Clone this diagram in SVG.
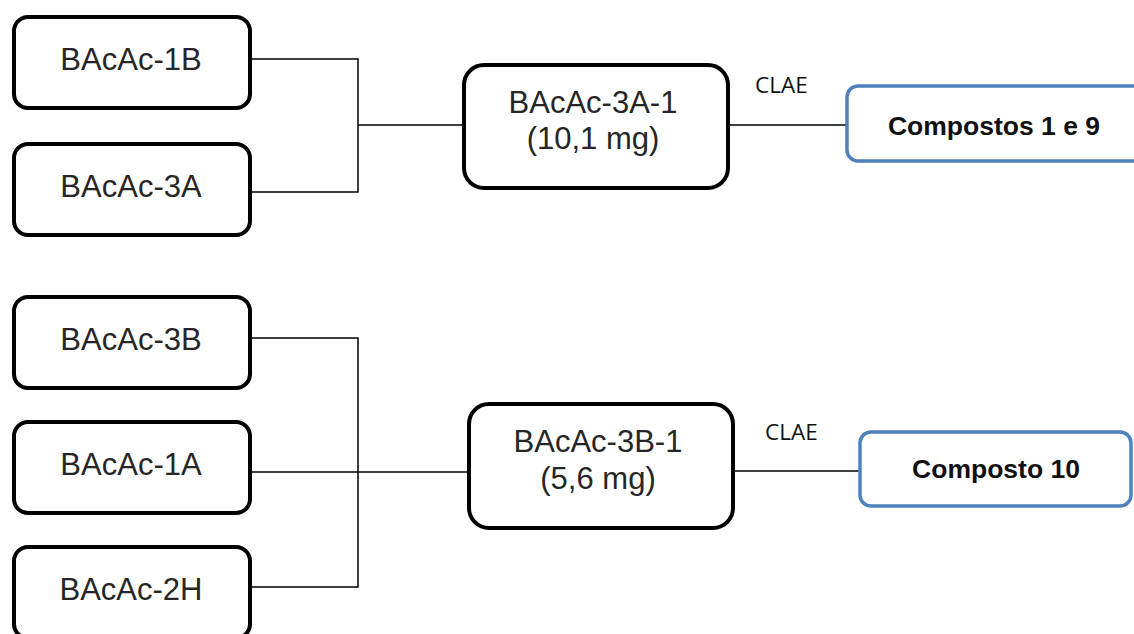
<svg xmlns="http://www.w3.org/2000/svg" width="1134" height="634" viewBox="0 0 1134 634">
  <style>
    .box { fill: #ffffff; stroke: #000000; stroke-width: 4; }
    .res { fill: #ffffff; stroke: #4f81bd; stroke-width: 3.5; }
    .lbl { font-family: "Liberation Sans", Arial, sans-serif; font-size: 31px; fill: #262626; text-anchor: middle; }
    .bold { font-family: "Liberation Sans", Arial, sans-serif; font-size: 26.5px; font-weight: bold; fill: #111111; text-anchor: middle; }
    .note { font-family: "Open Sans", "Liberation Sans", sans-serif; font-size: 22.5px; fill: #111111; }
    .wire { fill: none; stroke: #000000; stroke-width: 1.5; }
  </style>
  <rect width="1134" height="634" fill="#ffffff"/>

  <!-- connectors -->
  <g id="connectors">
    <path class="wire" d="M252,59 H358 V192 H252"/>
    <path class="wire" d="M358,125 H464"/>
    <path class="wire" d="M728,125 H847"/>
    <path class="wire" d="M252,338 H358 V587 H252"/>
    <path class="wire" d="M252,472 H469"/>
    <path class="wire" d="M733,471 H860"/>
    <text class="note" x="755" y="93">CLAE</text>
    <text class="note" x="765" y="440">CLAE</text>
  </g>

  <!-- upper branch -->
  <g id="n-bacac-1b">
    <rect class="box" x="14" y="17" width="236" height="91" rx="14"/>
    <text class="lbl" x="131" y="70">BAcAc-1B</text>
  </g>
  <g id="n-bacac-3a">
    <rect class="box" x="14" y="144" width="236" height="91" rx="14"/>
    <text class="lbl" x="131" y="197">BAcAc-3A</text>
  </g>
  <g id="n-bacac-3a-1">
    <rect class="box" x="464" y="65" width="264" height="123" rx="20"/>
    <text class="lbl" x="593" y="113">BAcAc-3A-1</text>
    <text class="lbl" x="593" y="149">(10,1 mg)</text>
  </g>
  <g id="n-compostos-1-9">
    <rect class="res" x="847" y="86" width="300" height="75" rx="11"/>
    <text class="bold" x="994" y="135">Compostos 1 e 9</text>
  </g>

  <!-- lower branch -->
  <g id="n-bacac-3b">
    <rect class="box" x="14" y="297" width="236" height="91" rx="14"/>
    <text class="lbl" x="131" y="350">BAcAc-3B</text>
  </g>
  <g id="n-bacac-1a">
    <rect class="box" x="14" y="422" width="236" height="91" rx="14"/>
    <text class="lbl" x="131" y="475">BAcAc-1A</text>
  </g>
  <g id="n-bacac-2h">
    <rect class="box" x="14" y="547" width="236" height="91" rx="14"/>
    <text class="lbl" x="131" y="600">BAcAc-2H</text>
  </g>
  <g id="n-bacac-3b-1">
    <rect class="box" x="469" y="404" width="264" height="124" rx="20"/>
    <text class="lbl" x="598" y="452">BAcAc-3B-1</text>
    <text class="lbl" x="598" y="489">(5,6 mg)</text>
  </g>
  <g id="n-composto-10">
    <rect class="res" x="860" y="432" width="271" height="74" rx="11"/>
    <text class="bold" x="996" y="478">Composto 10</text>
  </g>
</svg>
